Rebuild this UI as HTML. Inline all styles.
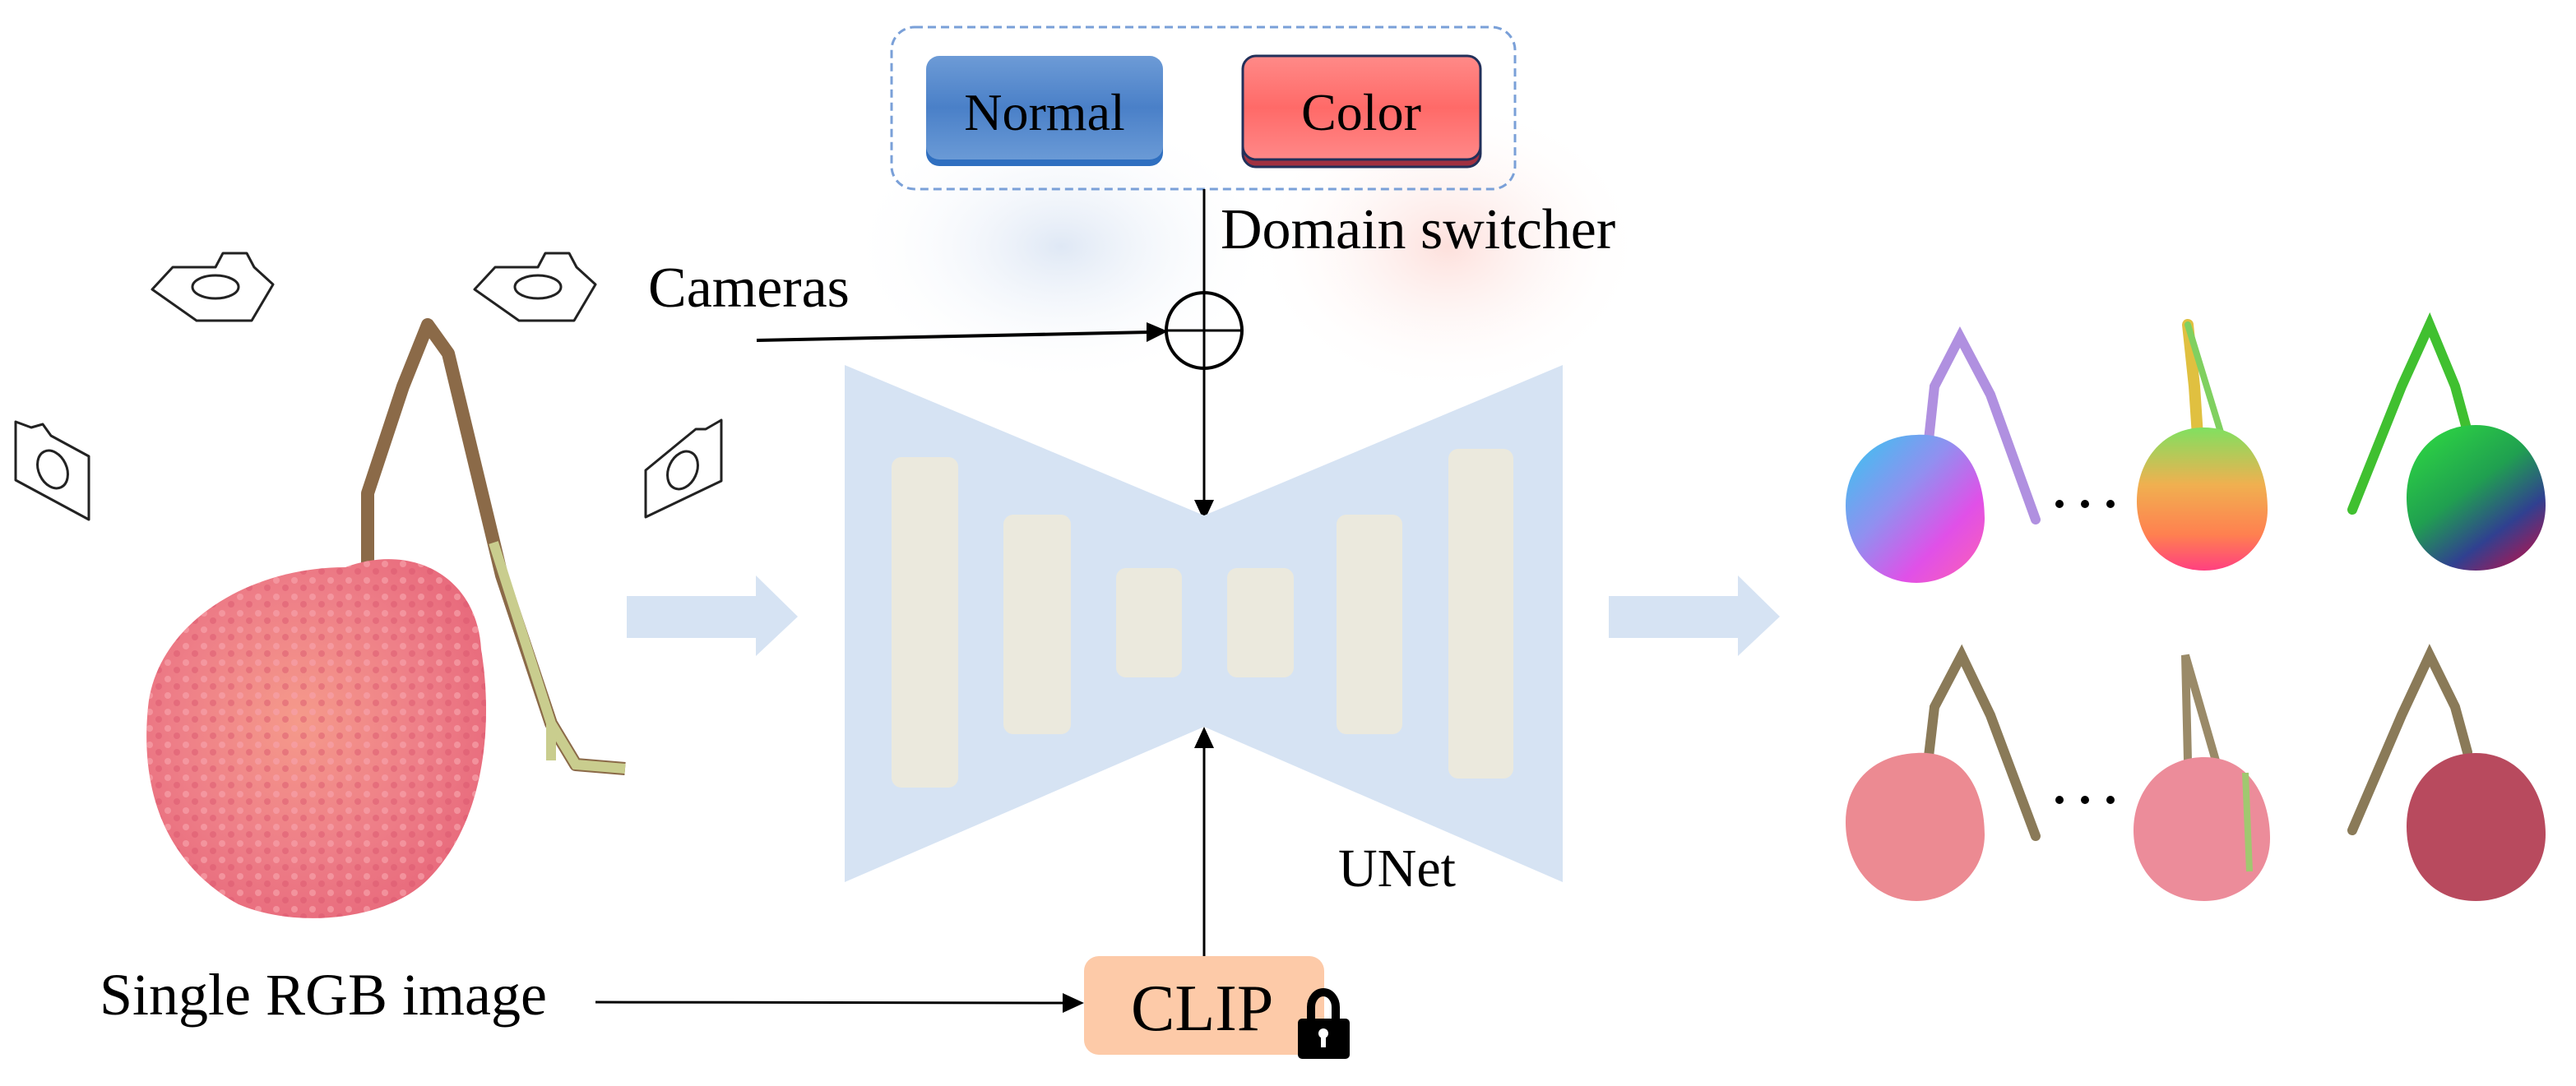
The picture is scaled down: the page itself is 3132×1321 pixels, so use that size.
<!DOCTYPE html>
<html><head><meta charset="utf-8"><style>
html,body{margin:0;padding:0;background:#fff}
svg{display:block}
text{font-family:"Liberation Serif",serif;fill:#000}
</style></head><body>
<svg width="3132" height="1321" viewBox="0 0 3132 1321" xmlns="http://www.w3.org/2000/svg">
<defs>
<radialGradient id="gb" cx="0.5" cy="0.5" r="0.5"><stop offset="0" stop-color="#dfe8f5"/><stop offset="1" stop-color="#fff" stop-opacity="0"/></radialGradient>
<radialGradient id="gr" cx="0.5" cy="0.5" r="0.5"><stop offset="0" stop-color="#fde0dc"/><stop offset="1" stop-color="#fff" stop-opacity="0"/></radialGradient>
<linearGradient id="nb" x1="0" y1="0" x2="0" y2="1"><stop offset="0" stop-color="#6d9bd6"/><stop offset="0.5" stop-color="#4a80c8"/><stop offset="1" stop-color="#6a9ad6"/></linearGradient>
<linearGradient id="cb" x1="0" y1="0" x2="0" y2="1"><stop offset="0" stop-color="#ff8a88"/><stop offset="0.5" stop-color="#ff6a68"/><stop offset="1" stop-color="#ff8888"/></linearGradient>
<radialGradient id="lp" cx="0.45" cy="0.45" r="0.6"><stop offset="0" stop-color="#f59a8a"/><stop offset="0.6" stop-color="#ee7f88"/><stop offset="1" stop-color="#e86a7c"/></radialGradient>
<pattern id="tex" width="22" height="20" patternUnits="userSpaceOnUse"><circle cx="6" cy="6" r="4" fill="#f7a0a8" opacity="0.7"/><circle cx="17" cy="15" r="4" fill="#d9556c" opacity="0.45"/></pattern>
<linearGradient id="n1" x1="0" y1="0" x2="1" y2="1"><stop offset="0" stop-color="#33c8f0"/><stop offset="0.4" stop-color="#9090f0"/><stop offset="0.7" stop-color="#e050e8"/><stop offset="1" stop-color="#ff60b0"/></linearGradient>
<linearGradient id="n2" x1="0" y1="0" x2="0" y2="1"><stop offset="0" stop-color="#80e060"/><stop offset="0.4" stop-color="#f0b050"/><stop offset="0.75" stop-color="#ff8050"/><stop offset="1" stop-color="#ff4080"/></linearGradient>
<linearGradient id="n3" x1="0" y1="0" x2="0.7" y2="1"><stop offset="0" stop-color="#30e040"/><stop offset="0.5" stop-color="#20a050"/><stop offset="0.8" stop-color="#304090"/><stop offset="1" stop-color="#902060"/></linearGradient>
</defs>
<ellipse cx="1290" cy="300" rx="260" ry="170" fill="url(#gb)"/>
<ellipse cx="1760" cy="300" rx="240" ry="180" fill="url(#gr)"/>
<!-- domain switcher -->
<rect x="1084" y="33" width="758" height="197" rx="28" fill="none" stroke="#7aa0d8" stroke-width="3" stroke-dasharray="10,6"/>
<rect x="1126" y="72" width="288" height="130" rx="16" fill="#2f6fc0"/>
<rect x="1126" y="68" width="288" height="126" rx="16" fill="url(#nb)"/>
<text x="1270" y="158" font-size="64" text-anchor="middle">Normal</text>
<rect x="1511" y="70" width="289" height="133" rx="16" fill="#a03040" stroke="#22305a" stroke-width="3"/>
<rect x="1511" y="68" width="289" height="126" rx="16" fill="url(#cb)" stroke="#22305a" stroke-width="3"/>
<text x="1655" y="158" font-size="64" text-anchor="middle">Color</text>
<text x="1484" y="302" font-size="70">Domain switcher</text>
<line x1="1464" y1="230" x2="1464" y2="616" stroke="#000" stroke-width="3"/>
<circle cx="1464" cy="402" r="46" fill="none" stroke="#000" stroke-width="4"/>
<line x1="1418" y1="402" x2="1510" y2="402" stroke="#000" stroke-width="3"/>
<polygon points="1464,634 1452,608 1476,608" fill="#000"/>
<text x="788" y="373" font-size="70">Cameras</text>
<line x1="920" y1="414" x2="1400" y2="404" stroke="#000" stroke-width="4"/>
<polygon points="1420,403 1394,392 1394,416" fill="#000"/>
<!-- UNet -->
<polygon points="1027,444 1464,627 1900,444 1900,1073 1464,884 1027,1073" fill="#d6e3f3"/>
<g fill="#ebe9dd">
<rect x="1084" y="556" width="81" height="402" rx="12"/>
<rect x="1220" y="626" width="82" height="267" rx="12"/>
<rect x="1357" y="691" width="80" height="133" rx="12"/>
<rect x="1492" y="691" width="81" height="133" rx="12"/>
<rect x="1625" y="626" width="80" height="267" rx="12"/>
<rect x="1761" y="546" width="79" height="401" rx="12"/>
</g>
<text x="1627" y="1078" font-size="66">UNet</text>
<line x1="1464" y1="1164" x2="1464" y2="908" stroke="#000" stroke-width="3"/>
<polygon points="1464,884 1452,910 1476,910" fill="#000"/>
<!-- CLIP -->
<rect x="1318" y="1163" width="292" height="120" rx="18" fill="#fdcaa8"/>
<text x="1375" y="1253" font-size="80">CLIP</text>
<path d="M1594,1241 V1225 A15,18 0 0 1 1624,1225 V1241" fill="none" stroke="#000" stroke-width="10"/>
<rect x="1578" y="1239" width="63" height="49" rx="5" fill="#000"/>
<circle cx="1609" cy="1257" r="6" fill="#fff"/><rect x="1606" y="1258" width="6" height="16" fill="#fff"/>
<text x="121" y="1234" font-size="72">Single RGB image</text>
<line x1="724" y1="1219" x2="1296" y2="1220" stroke="#000" stroke-width="3"/>
<polygon points="1318,1220 1292,1208 1292,1232" fill="#000"/>
<!-- big arrows -->
<polygon points="762,725 919,725 919,700 970,750 919,798 919,776 762,776" fill="#d6e3f3"/>
<polygon points="1956,725 2113,725 2113,700 2164,750 2113,798 2113,776 1956,776" fill="#d6e3f3"/>
<!-- cameras icons -->
<g fill="none" stroke="#222" stroke-width="3" stroke-linejoin="round">
<path d="M185,352 L210,325 L262,325 L271,308 L300,308 L309,325 L332,346 L306,390 L239,390 Z"/><ellipse cx="262" cy="349" rx="28" ry="14"/>
<path d="M577,352 L602,325 L654,325 L663,308 L692,308 L701,325 L724,346 L698,390 L631,390 Z"/><ellipse cx="654" cy="349" rx="28" ry="14"/>
<path d="M19,513 L38,520 L52,516 L62,530 L108,555 L108,632 L19,584 Z"/><ellipse cx="64" cy="571" rx="17" ry="24" transform="rotate(-25 64 571)"/>
<path d="M785,629 L785,572 L830,535 L846,522 L858,522 L877,511 L877,585 Z"/><ellipse cx="830" cy="572" rx="17" ry="24" transform="rotate(25 830 572)"/>
</g>
<!-- big lychee -->
<path d="M447,694 L447,600 L490,470 L520,395 L545,430 L610,700 L670,880 L700,930 L760,935" fill="none" stroke="#8b6a48" stroke-width="16" stroke-linejoin="round"/>
<path d="M600,660 L670,880 L700,930 L760,935 M670,880 L670,925" fill="none" stroke="#c9cd8e" stroke-width="12"/>
<path d="M420,690 C500,660 580,700 585,790 C600,880 590,1000 520,1070 C470,1120 360,1130 290,1100 C200,1050 170,960 180,860 C190,760 300,690 420,690 Z" fill="url(#lp)"/>
<path d="M420,690 C500,660 580,700 585,790 C600,880 590,1000 520,1070 C470,1120 360,1130 290,1100 C200,1050 170,960 180,860 C190,760 300,690 420,690 Z" fill="url(#tex)"/>
<!-- right outputs -->
<g stroke-linecap="round" fill="none">
<path d="M2345,535 L2352,470 L2383,410 L2420,480 L2475,632" stroke="#b090e0" stroke-width="12"/>
<path d="M2660,395 L2668,470 L2672,530" stroke="#e0c040" stroke-width="14"/>
<path d="M2660,395 L2735,640" stroke="#80d060" stroke-width="8"/>
<path d="M3000,525 L2985,470 L2954,395 L2920,470 L2860,620" stroke="#40c030" stroke-width="12"/>
<path d="M2345,920 L2352,860 L2385,797 L2420,870 L2475,1017" stroke="#8a7a58" stroke-width="12"/>
<path d="M2660,925 L2657,797 L2730,1050" stroke="#9a8a68" stroke-width="10"/>
<path d="M3000,915 L2985,860 L2954,797 L2920,870 L2860,1010" stroke="#8a7a58" stroke-width="12"/>
</g>
<path d="M2330,529 C2390,525 2413,580 2413,630 C2413,680 2370,709 2330,709 C2280,709 2244,670 2244,615 C2244,565 2280,530 2330,529 Z" fill="url(#n1)"/>
<path d="M2680,520 C2735,520 2757,570 2757,620 C2757,665 2720,694 2680,694 C2635,694 2598,660 2598,610 C2598,560 2630,520 2680,520 Z" fill="url(#n2)"/>
<path d="M3010,517 C3065,517 3095,565 3095,615 C3095,665 3055,694 3010,694 C2960,694 2926,660 2926,605 C2926,555 2960,517 3010,517 Z" fill="url(#n3)"/>
<path d="M2330,916 C2390,912 2413,965 2413,1015 C2413,1065 2370,1096 2330,1096 C2280,1096 2244,1055 2244,1000 C2244,950 2280,918 2330,916 Z" fill="#ec8a92"/>
<path d="M2680,921 C2735,921 2760,970 2760,1020 C2760,1068 2720,1096 2680,1096 C2632,1096 2594,1062 2594,1010 C2594,960 2630,921 2680,921 Z" fill="#ec8c9a"/>
<path d="M3010,916 C3065,916 3095,965 3095,1015 C3095,1065 3055,1096 3010,1096 C2960,1096 2926,1060 2926,1005 C2926,955 2960,916 3010,916 Z" fill="#b84a5e"/>
<path d="M2730,940 L2735,1060" stroke="#a0c870" stroke-width="8"/>
<g fill="#000">
<circle cx="2504" cy="613" r="5"/><circle cx="2535" cy="613" r="5"/><circle cx="2566" cy="613" r="5"/>
<circle cx="2504" cy="973" r="5"/><circle cx="2535" cy="973" r="5"/><circle cx="2566" cy="973" r="5"/>
</g>
</svg>
</body></html>
